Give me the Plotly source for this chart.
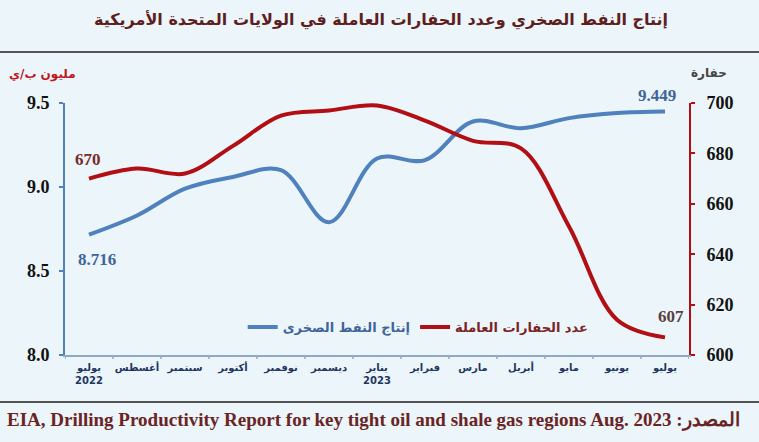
import plotly.graph_objects as go

months = ["يوليو<br>2022", "أغسطس", "سبتمبر", "أكتوبر", "نوفمبر", "ديسمبر", "يناير<br>2023",
          "فبراير", "مارس", "أبريل", "مايو", "يونيو", "يوليو"]
shale_oil = [8.716, 8.83, 8.99, 9.06, 9.10, 8.79, 9.17, 9.16, 9.39, 9.35, 9.41, 9.44, 9.449]
rigs = [670, 674, 672, 683, 695, 697, 699, 693, 685, 682, 651, 614, 607]

x_idx = list(range(len(months)))
BLUE = "#4f81bd"
RED = "#b10f14"

fig = go.Figure()
fig.add_trace(go.Scatter(
    x=x_idx, y=shale_oil, mode="lines", line=dict(color=BLUE, width=4, shape="spline", smoothing=1.0),
    name='<span style="color:#3f6499">إنتاج النفط الصخرى</span>', yaxis="y"))
fig.add_trace(go.Scatter(
    x=x_idx, y=rigs, mode="lines", line=dict(color=RED, width=4, shape="spline", smoothing=1.0),
    name='<span style="color:#7a2424">عدد الحفارات العاملة</span>', yaxis="y2"))

num_font = dict(family="Liberation Serif", size=18, color="#111111", weight="bold")

fig.update_layout(
    width=759, height=442,
    margin=dict(l=65, r=70, t=103, b=87),
    paper_bgcolor="#ebf5fa", plot_bgcolor="rgba(0,0,0,0)",
    showlegend=True,
    legend=dict(orientation="h", x=0.566, y=0.111, xanchor="center", yanchor="middle",
                bgcolor="rgba(0,0,0,0)", font=dict(family="DejaVu Sans", size=13, weight="bold"),
                itemwidth=30, traceorder="normal"),
    xaxis=dict(range=[-0.5, 12.5], tickmode="array", tickvals=x_idx, ticktext=months,
               showgrid=False, zeroline=False, showline=True, linecolor="#8fa8c4", linewidth=1.5,
               ticks="", ticklabelstandoff=2,
               tickfont=dict(family="DejaVu Sans", size=10, color="#1f3560", weight="bold")),
    yaxis=dict(range=[8.0, 9.5], dtick=0.5, tickformat=".1f", showgrid=False, zeroline=False,
               showline=True, linecolor=BLUE, linewidth=2, ticks="outside", ticklen=4, tickcolor=BLUE,
               tickwidth=2, tickfont=num_font, ticklabelstandoff=6),
    yaxis2=dict(range=[600, 700], dtick=20, overlaying="y", side="right", showgrid=False, zeroline=False,
                showline=True, linecolor=RED, linewidth=2, ticks="outside", ticklen=4, tickcolor=RED,
                tickwidth=2, tickfont=num_font, ticklabelstandoff=8),
)

# x-axis boundary tick marks
for i in range(len(months) + 1):
    fig.add_shape(type="line", xref="x", yref="paper", x0=i - 0.5, x1=i - 0.5, y0=0, y1=-0.016,
                  line=dict(color="#8fa8c4", width=1.5))

# separators
fig.add_shape(type="line", xref="paper", yref="paper", x0=-0.11, x1=1.12, y0=1.202, y1=1.202,
              line=dict(color="#555555", width=2))
fig.add_shape(type="line", xref="paper", yref="paper", x0=-0.11, x1=1.12, y0=-0.187, y1=-0.187,
              line=dict(color="#555555", width=2))

ann = []
ann.append(dict(text="إنتاج النفط الصخري وعدد الحفارات العاملة في الولايات المتحدة الأمريكية",
                xref="paper", yref="paper", x=0.506, y=(355 - 20) / 252, xanchor="center", yanchor="middle",
                showarrow=False, font=dict(family="DejaVu Sans", size=16, color="#5e1e1e", weight="bold")))
ann.append(dict(text="مليون ب/ي", xref="paper", yref="paper", x=(42 - 65) / 624, y=(355 - 75) / 252,
                xanchor="center", yanchor="middle", showarrow=False,
                font=dict(family="DejaVu Sans", size=12, color="#c0161c", weight="bold")))
ann.append(dict(text="حفارة", xref="paper", yref="paper", x=(709 - 65) / 624, y=(355 - 73) / 252,
                xanchor="center", yanchor="middle", showarrow=False,
                font=dict(family="DejaVu Sans", size=12, color="#444444", weight="bold")))
lab_font = dict(family="Liberation Serif", size=17, weight="bold")
ann.append(dict(text=str(rigs[0]), x=0, y=rigs[0], xref="x", yref="y2", yshift=19, xshift=-1,
                showarrow=False, font=dict(lab_font, color="#7a2a2a")))
ann.append(dict(text=f"{shale_oil[0]:.3f}", x=0, y=shale_oil[0], xref="x", yref="y", yshift=-25, xshift=8,
                showarrow=False, font=dict(lab_font, color="#3f6499")))
ann.append(dict(text=f"{shale_oil[-1]:.3f}", x=12, y=shale_oil[-1], xref="x", yref="y", yshift=16, xshift=-8,
                showarrow=False, font=dict(lab_font, color="#3f6499")))
ann.append(dict(text=str(rigs[-1]), x=12, y=rigs[-1], xref="x", yref="y2", yshift=21, xshift=6,
                showarrow=False, font=dict(lab_font, color="#5a4040")))
ann.append(dict(text="EIA, Drilling Productivity Report for key tight oil and shale gas regions Aug. 2023 :المصدر",
                xref="paper", yref="paper", x=(5 - 65) / 624, y=(355 - 420) / 252, xanchor="left",
                yanchor="middle", showarrow=False,
                font=dict(family="Liberation Serif", size=19, color="#6a2424", weight="bold")))
fig.update_layout(annotations=ann)

fig.write_html("out.html")
